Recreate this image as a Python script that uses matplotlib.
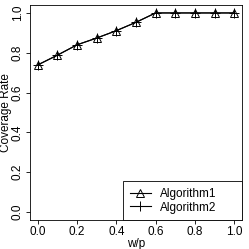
import matplotlib
matplotlib.use("Agg")
import matplotlib.pyplot as plt

plt.rcParams['font.family'] = ['Liberation Sans', 'DejaVu Sans']

wp = [0.0, 0.1, 0.2, 0.3, 0.4, 0.5, 0.6, 0.7, 0.8, 0.9, 1.0]
alg1 = [0.739, 0.788, 0.84, 0.874, 0.911, 0.953, 1.0, 1.0, 1.0, 1.0, 1.0]
alg2 = [0.739, 0.788, 0.84, 0.874, 0.911, 0.953, 1.0, 1.0, 1.0, 1.0, 1.0]
ticks = [0.0, 0.2, 0.4, 0.6, 0.8, 1.0]

fs = 8.5
fig = plt.figure(figsize=(2.49, 2.49), dpi=100)
ax = fig.add_axes([0.120, 0.116, 0.852, 0.864])

ax.plot(wp, alg1, color='black', lw=0.8, marker='^', markersize=6,
        markerfacecolor='none', markeredgecolor='black', markeredgewidth=0.7,
        label='Algorithm1')
ax.plot(wp, alg2, color='black', lw=0.8, marker='+', markersize=7,
        markeredgewidth=0.7, label='Algorithm2')

ax.set_xlim(-0.04, 1.04)
ax.set_ylim(-0.04, 1.04)
ax.set_xticks(ticks)
ax.set_yticks(ticks)
ax.set_xticklabels([f"{t:.1f}" for t in ticks], fontsize=fs)
ax.set_yticklabels([f"{t:.1f}" for t in ticks], fontsize=fs, rotation=90, va='center')
ax.tick_params(direction='out', length=3, width=0.6, pad=1.5)
for s in ax.spines.values():
    s.set_linewidth(0.6)

ax.set_xlabel("w/p", fontsize=fs)
ax.xaxis.set_label_coords(0.5, -0.085)
ax.set_ylabel("Coverage Rate", fontsize=fs, va='center')
ax.yaxis.set_label_coords(-0.112, 0.5)

leg = ax.legend(loc='lower left', bbox_to_anchor=(0.439, 0, 0.561, 0.18), mode='expand',
                borderaxespad=0, fancybox=False, framealpha=1, edgecolor='black',
                fontsize=fs, handlelength=1.8, handletextpad=0.8, borderpad=0.55,
                labelspacing=0.15)
leg.get_frame().set_linewidth(0.6)

fig.savefig("out.png", dpi=100)
